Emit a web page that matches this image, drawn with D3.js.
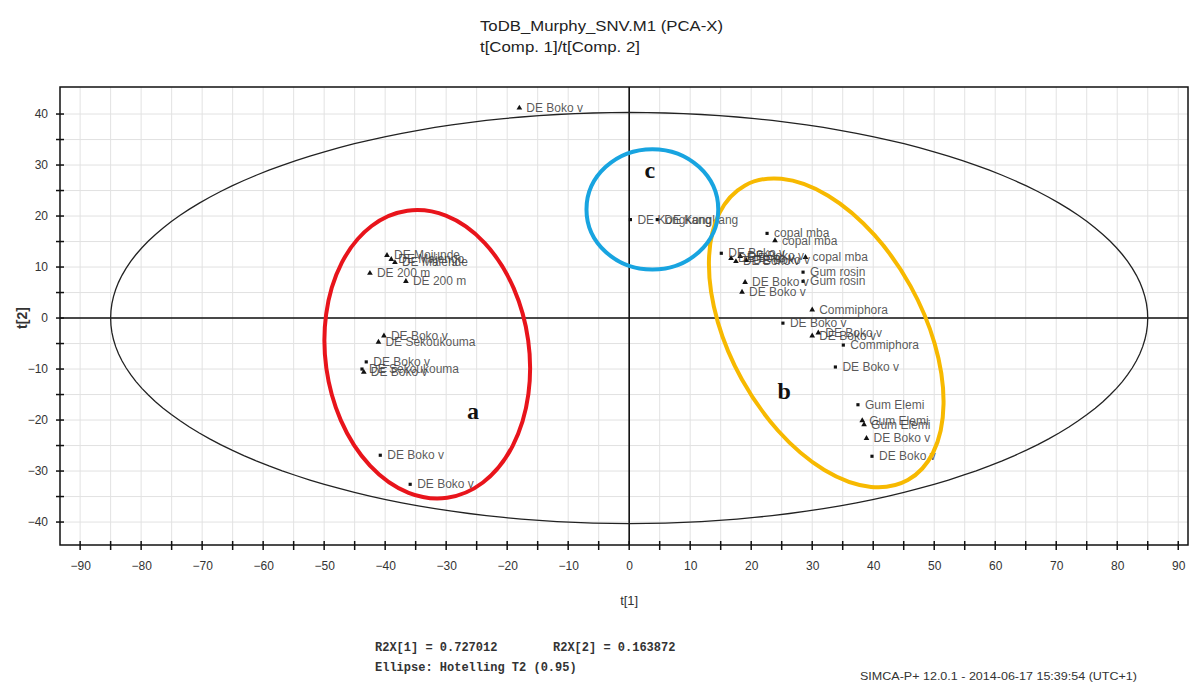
<!DOCTYPE html>
<html><head><meta charset="utf-8">
<script src="https://cdn.jsdelivr.net/npm/d3@7"></script>
<style>
html,body{margin:0;padding:0;background:#fff;}
svg{display:block;}
</style></head>
<body>
<svg id="chart" width="1190" height="684"></svg>
<script>
// ---------- data ----------
const titleLines = ["ToDB_Murphy_SNV.M1 (PCA-X)", "t[Comp. 1]/t[Comp. 2]"];
const xTickValues = [-90,-80,-70,-60,-50,-40,-30,-20,-10,0,10,20,30,40,50,60,70,80,90];
const yTickValues = [-40,-30,-20,-10,0,10,20,30,40];
const xAxisLabel = "t[1]";
const yAxisLabel = "t[2]";
const footerLines = ["R2X[1] = 0.727012", "R2X[2] = 0.163872", "Ellipse: Hotelling T2 (0.95)"];
const stamp = "SIMCA-P+ 12.0.1 - 2014-06-17 15:39:54 (UTC+1)";

// score points: t1, t2, label, marker
const pointT1 = [-18.0,
  -39.7,-39.0,-38.4,-42.5,-36.6,
  -40.2,-41.1,-43.1,-43.8,-43.5,
  -40.8,-35.9,
  0.2,4.6,
  22.6,23.9,15.1,16.7,17.5,18.2,19.2,28.9,28.5,28.5,19.0,18.5,30.0,25.2,30.0,31.0,35.1,33.8,
  37.5,38.2,38.5,38.9,39.8];
const pointT2 = [41.2,
  12.3,11.5,10.9,8.8,7.2,
  -3.5,-4.7,-8.6,-10.0,-10.6,
  -26.9,-32.6,
  19.3,19.3,
  16.6,15.2,12.7,11.7,11.1,12.1,11.3,11.9,9.0,7.2,7.0,5.1,1.6,-1.0,-3.5,-2.9,-5.3,-9.6,
  -17.0,-20.1,-20.9,-23.6,-27.1];
const pointLabels = ["DE Boko v",
  "DE Mojunde","DE Majengo","DE Malende","DE 200 m","DE 200 m",
  "DE Boko v","DE Sekoukouma","DE Boko v","DE Sekoukouma","DE Boko v",
  "DE Boko v","DE Boko v",
  "DE Kongkang","DE Kongkang",
  "copal mba","copal mba","DE Boko v","DE Boko v","DE Boko v","DE Boko v","DE Boko v","copal mba","Gum rosin","Gum rosin","DE Boko v","DE Boko v","Commiphora","DE Boko v","DE Boko v","DE Boko v","Commiphora","DE Boko v",
  "Gum Elemi","Gum Elemi","Gum Elemi","DE Boko v","DE Boko v"];
const pointMarkers = ["tri",
  "tri","tri","tri","tri","tri",
  "tri","tri","sq","sq","tri",
  "sq","sq",
  "sq","sq",
  "sq","tri","sq","tri","tri","tri","tri","tri","sq","sq","tri","tri","tri","sq","tri","tri","sq","sq",
  "sq","tri","tri","tri","sq"];

// Hotelling T2 ellipse semi-axes (t1, t2 units)
const hotellingA = 85.0, hotellingB = 40.3;

// annotation groups
const groupNames = ["a","b","c"];
const groupCx = [-33.1, 32.3, 3.8];
const groupCy = [-7.1, -2.9, 21.3];
const groupRx = [16.7, 15.8, 10.8];
const groupRy = [28.4, 33.0, 11.8];
const groupRot = [-7.9, -29, 0];
const groupColors = ["#e8141b", "#f7b900", "#18a4e0"];
const groupLetterX = [-25.6, 25.4, 3.4];
const groupLetterY = [-19.8, -15.9, 27.4];

// ---------- layout ----------
const svg = d3.select("#chart");
const plotLeft = 60, plotRight = 1188, plotTop = 87, plotBottom = 545;
const x = d3.scaleLinear().domain([-93.3, 91.6]).range([plotLeft, plotRight]);
const y = d3.scaleLinear().domain([-44.5, 45.3]).range([plotBottom, plotTop]);

const font = "'Liberation Sans', Arial, sans-serif";

// title
svg.append("g").selectAll("text").data(titleLines).join("text")
  .attr("x", 480).attr("y", (d,i)=>31 + i*21)
  .attr("font-family", font).attr("font-size", 15).attr("fill", "#222")
  .attr("textLength", (d,i)=> i===0 ? 243 : 160).attr("lengthAdjust","spacingAndGlyphs")
  .text(d=>d);

// grid
const gx = d3.range(-90, 91, 5), gy = d3.range(-40, 41, 5);
const grid = svg.append("g").attr("stroke", "#e2e2e2").attr("stroke-width", 1);
grid.selectAll("line.v").data(gx).join("line").attr("class","v")
  .attr("x1", d=>x(d)).attr("x2", d=>x(d)).attr("y1", plotTop).attr("y2", plotBottom);
grid.selectAll("line.h").data(gy).join("line").attr("class","h")
  .attr("y1", d=>y(d)).attr("y2", d=>y(d)).attr("x1", plotLeft).attr("x2", plotRight);

// frame
svg.append("rect").attr("x", plotLeft).attr("y", plotTop).attr("width", plotRight-plotLeft).attr("height", plotBottom-plotTop)
  .attr("fill","none").attr("stroke","#111").attr("stroke-width",1.5);

// zero lines
svg.append("line").attr("x1", x(0)).attr("x2", x(0)).attr("y1", plotTop).attr("y2", plotBottom)
  .attr("stroke","#111").attr("stroke-width",1.6);
svg.append("line").attr("y1", y(0)).attr("y2", y(0)).attr("x1", plotLeft).attr("x2", plotRight)
  .attr("stroke","#111").attr("stroke-width",1.6);

// axes
const xAxis = d3.axisBottom(x).tickValues(xTickValues).tickSize(0).tickPadding(16)
  .tickFormat(d3.format("d"));
const xg = svg.append("g").attr("transform", `translate(0,${plotBottom})`).call(xAxis);
xg.select(".domain").remove();
xg.selectAll("text").attr("font-family", font).attr("font-size", 12).attr("fill","#333");
svg.append("g").selectAll("line").data(gx).join("line")
  .attr("x1", d=>x(d)).attr("x2", d=>x(d)).attr("y1", plotBottom-4).attr("y2", plotBottom+5)
  .attr("stroke","#111").attr("stroke-width",1.5);

const yAxis = d3.axisLeft(y).tickValues(yTickValues).tickSize(0).tickPadding(12)
  .tickFormat(d3.format("d"));
const yg = svg.append("g").attr("transform", `translate(${plotLeft},0)`).call(yAxis);
yg.select(".domain").remove();
yg.selectAll("text").attr("font-family", font).attr("font-size", 12).attr("fill","#333");
svg.append("g").selectAll("line").data(gy).join("line")
  .attr("y1", d=>y(d)).attr("y2", d=>y(d)).attr("x1", plotLeft-4).attr("x2", plotLeft+4)
  .attr("stroke","#111").attr("stroke-width",1.5);

// axis titles
svg.append("text").attr("x", x(0)).attr("y", 605).attr("text-anchor","middle")
  .attr("font-family", font).attr("font-size", 13).attr("fill","#333").text(xAxisLabel);
svg.append("text").attr("transform", `translate(27,${y(0)}) rotate(-90)`).attr("text-anchor","middle")
  .attr("font-family", font).attr("font-size", 14).attr("font-weight","bold").attr("fill","#333").text(yAxisLabel);

// Hotelling ellipse
const ell = d3.range(0, 361, 2).map(a => [hotellingA*Math.cos(a*Math.PI/180), hotellingB*Math.sin(a*Math.PI/180)]);
svg.append("path").datum(ell)
  .attr("d", d3.line().x(d=>x(d[0])).y(d=>y(d[1])))
  .attr("fill","none").attr("stroke","#222").attr("stroke-width",1.3);

// points
const pts = pointT1.map((t1,i)=>({t1, t2: pointT2[i], label: pointLabels[i], m: pointMarkers[i]}));
const pg = svg.append("g");
pg.selectAll("path").data(pts).join("path")
  .attr("transform", d=>`translate(${x(d.t1)},${y(d.t2)})`)
  .attr("d", d=> d3.symbol().type(d.m==="sq"?d3.symbolSquare:d3.symbolTriangle).size(d.m==="sq"?10:14)())
  .attr("fill","#111");
pg.selectAll("text").data(pts).join("text")
  .attr("x", d=>x(d.t1)+7).attr("y", d=>y(d.t2)+4)
  .attr("font-family", font).attr("font-size", 12).attr("fill","#3a3a3a").attr("fill-opacity",0.85)
  .text(d=>d.label);

// annotation ellipses
const ag = svg.append("g");
groupNames.forEach((g,i)=>{
  const cx = x(groupCx[i]), cy = y(groupCy[i]);
  const rx = x(groupRx[i]) - x(0), ry = y(0) - y(groupRy[i]);
  ag.append("ellipse").attr("cx", cx).attr("cy", cy).attr("rx", rx).attr("ry", ry)
    .attr("transform", `rotate(${groupRot[i]},${cx},${cy})`)
    .attr("fill","none").attr("stroke", groupColors[i]).attr("stroke-width", 4);
  ag.append("text").attr("x", x(groupLetterX[i])).attr("y", y(groupLetterY[i])).attr("text-anchor","middle")
    .attr("font-family","'Liberation Serif', 'Times New Roman', serif").attr("font-size", 24).attr("font-weight","bold")
    .attr("fill","#111").text(g);
});

// footer
const mono = "'Liberation Mono', 'Courier New', monospace";
svg.append("text").attr("x", 375).attr("y", 651).attr("font-family", mono).attr("font-size", 12).attr("font-weight","bold").attr("fill","#333").text(footerLines[0]);
svg.append("text").attr("x", 553).attr("y", 651).attr("font-family", mono).attr("font-size", 12).attr("font-weight","bold").attr("fill","#333").text(footerLines[1]);
svg.append("text").attr("x", 375).attr("y", 671).attr("font-family", mono).attr("font-size", 12).attr("font-weight","bold").attr("fill","#333").text(footerLines[2]);
svg.append("text").attr("x", 860).attr("y", 680).attr("font-family", font).attr("font-size", 11).attr("fill","#333")
  .attr("textLength", 277).attr("lengthAdjust","spacingAndGlyphs").text(stamp);
</script>
</body></html>
